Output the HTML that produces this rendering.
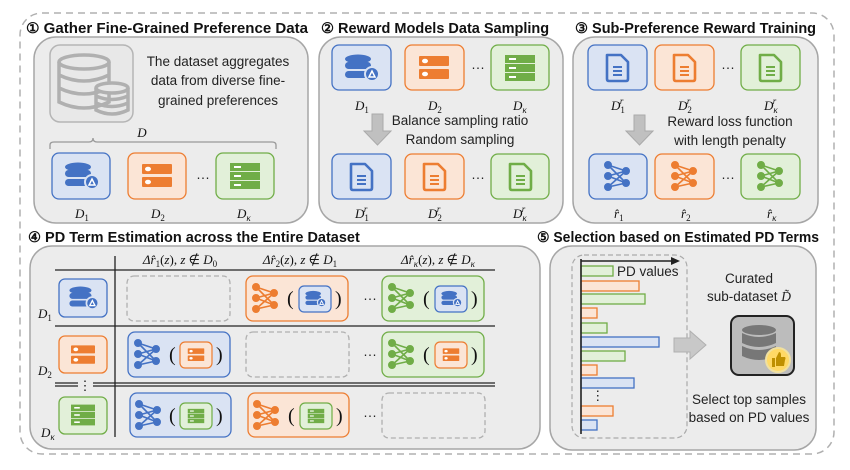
<!DOCTYPE html>
<html><head><meta charset="utf-8"><style>
html,body{margin:0;padding:0;background:#fff;}
svg{display:block;}
.t{font-family:"Liberation Sans",sans-serif;font-weight:bold;font-size:14.5px;fill:#111;}
.n{font-family:"Liberation Sans",sans-serif;font-size:13.5px;fill:#222;}
.m{font-family:"Liberation Serif",serif;font-style:italic;font-size:13px;fill:#111;}
.p{font-family:"Liberation Serif",serif;font-size:20px;fill:#111;}
</style></head><body>
<svg width="850" height="470" viewBox="0 0 850 470" xmlns="http://www.w3.org/2000/svg">
<defs>
<g id="db">
 <ellipse cx="-3" cy="-9" rx="13" ry="4.5" fill="#4472c4"/>
 <rect x="-16" y="-6" width="26" height="7" rx="3.5" fill="#4472c4"/>
 <rect x="-16" y="3" width="26" height="7" rx="3.5" fill="#4472c4"/>
 <circle cx="11" cy="6" r="7" fill="#4472c4" stroke="#dae3f3" stroke-width="2"/>
 <path d="M8 9 L11 3 L14 9 Z" fill="none" stroke="#fff" stroke-width="1.5"/>
</g>
<g id="srv">
 <rect x="-15" y="-12" width="30" height="10" rx="1" fill="#ed7d31"/>
 <rect x="-15" y="1" width="30" height="10" rx="1" fill="#ed7d31"/>
 <ellipse cx="-9" cy="-7" rx="3" ry="2.3" fill="#fff"/>
 <ellipse cx="-9" cy="6" rx="3" ry="2.3" fill="#fff"/>
</g>
<g id="grn">
 <rect x="-15" y="-13" width="30" height="8" fill="#70ad47"/>
 <rect x="-15" y="-4" width="30" height="8" fill="#70ad47"/>
 <rect x="-15" y="5" width="30" height="8" fill="#70ad47"/>
 <rect x="-11" y="-10" width="7" height="2" fill="#fff"/>
 <rect x="-11" y="-1" width="7" height="2" fill="#fff"/>
 <rect x="-11" y="8" width="7" height="2" fill="#fff"/>
</g>
<g id="doc">
 <path d="M-10 -13 H4 L11 -6 V11 Q11 13 9 13 H-8 Q-10 13 -10 11 Z" fill="none" stroke-width="2.6" stroke-linejoin="round"/>
 <path d="M-4 -1 H5 M-4 3 H5 M-4 7 H5" stroke-width="2"/>
</g>
<g id="nn">
 <path d="M-9 -11 L9 -5 M-9 -11 L9 7 M-9 0 L9 -5 M-9 0 L9 7 M-9 11 L9 -5 M-9 11 L9 7" stroke-width="1.6" fill="none"/>
 <circle cx="-9" cy="-11" r="3.5"/><circle cx="-9" cy="0" r="3.5"/><circle cx="-9" cy="11" r="3.5"/>
 <circle cx="9" cy="-5" r="3.5"/><circle cx="9" cy="7" r="3.5"/>
</g>
</defs>

<rect x="20" y="13" width="814" height="441" rx="22" fill="none" stroke="#b0b0b0" stroke-width="1.5" stroke-dasharray="7,5"/>

<text class="t" x="26" y="33" textLength="282" lengthAdjust="spacingAndGlyphs">① Gather Fine-Grained Preference Data</text>
<text class="t" x="321" y="33">② Reward Models Data Sampling</text>
<text class="t" x="575" y="33">③ Sub-Preference Reward Training</text>
<text class="t" x="28" y="242">④ PD Term Estimation across the Entire Dataset</text>
<text class="t" x="537" y="242" textLength="282" lengthAdjust="spacingAndGlyphs">⑤ Selection based on Estimated PD Terms</text>

<g fill="#ececec" stroke="#a6a6a6" stroke-width="1.5">
<rect x="34" y="37" width="274" height="186" rx="22"/>
<rect x="319" y="37" width="244" height="186" rx="22"/>
<rect x="573" y="37" width="245" height="186" rx="22"/>
<rect x="30" y="246" width="510" height="203" rx="22"/>
<rect x="550" y="246" width="266" height="204" rx="22"/>
</g>

<rect x="50" y="45" width="83" height="77" rx="10" fill="#e8e8e8" stroke="#b5b5b5" stroke-width="1.5"/>
<g fill="none" stroke="#b0b0b0" stroke-width="3.5">
 <ellipse cx="84" cy="62" rx="25" ry="7"/>
 <path d="M59 62 V102 Q84 114 109 102 V62 M59 75 Q84 87 109 75 M59 88 Q84 100 109 88"/>
 <ellipse cx="112" cy="88" rx="16" ry="5" fill="#e8e8e8"/>
 <path d="M96 88 V110 Q112 118 128 110 V88 M96 96 Q112 103 128 96 M96 103 Q112 110 128 103"/>
</g>
<text class="n" x="218" y="66" text-anchor="middle">The dataset aggregates</text>
<text class="n" x="218" y="85" text-anchor="middle">data from diverse fine-</text>
<text class="n" x="218" y="105" text-anchor="middle">grained preferences</text>
<text class="m" x="142" y="137" text-anchor="middle" font-size="14">D</text>
<path d="M50 149 V145 Q50 142 54 142 H89 Q93 142 93 138 Q93 142 97 142 H272 Q276 142 276 145 V149" fill="none" stroke="#999" stroke-width="1.3"/>
<rect x="52" y="153" width="58" height="46" rx="7" fill="#dae3f3" stroke="#4472c4" stroke-width="1.3"/>
<use href="#db" transform="translate(81,176)"/>
<rect x="128" y="153" width="58" height="46" rx="7" fill="#fbe5d6" stroke="#ed7d31" stroke-width="1.3"/>
<use href="#srv" transform="translate(157,176)"/>
<text class="n" x="203" y="182" text-anchor="middle">···</text>
<rect x="216" y="153" width="58" height="46" rx="7" fill="#e2f0d9" stroke="#70ad47" stroke-width="1.3"/>
<use href="#grn" transform="translate(245,176)"/>
<text class="m" x="75" y="218">D<tspan font-size="9" dy="3" font-style="normal">1</tspan></text>
<text class="m" x="151" y="218">D<tspan font-size="9" dy="3" font-style="normal">2</tspan></text>
<text class="m" x="237" y="218">D<tspan font-size="9" dy="3">κ</tspan></text>

<rect x="332" y="45" width="59" height="45" rx="7" fill="#dae3f3" stroke="#4472c4" stroke-width="1.3"/>
<use href="#db" transform="translate(361,68)"/>
<rect x="405" y="45" width="59" height="45" rx="7" fill="#fbe5d6" stroke="#ed7d31" stroke-width="1.3"/>
<use href="#srv" transform="translate(434,68)"/>
<text class="n" x="478" y="72" text-anchor="middle">···</text>
<rect x="491" y="45" width="58" height="45" rx="7" fill="#e2f0d9" stroke="#70ad47" stroke-width="1.3"/>
<use href="#grn" transform="translate(520,68)"/>
<text class="m" x="355" y="110">D<tspan font-size="9" dy="3" font-style="normal">1</tspan></text>
<text class="m" x="428" y="110">D<tspan font-size="9" dy="3" font-style="normal">2</tspan></text>
<text class="m" x="513" y="110">D<tspan font-size="9" dy="3">κ</tspan></text>
<path d="M372 114 H383 V131 H391 L377.5 145 L364 131 H372 Z" fill="#c0c0c0" stroke="#aaa"/>
<text class="n" x="460" y="125" text-anchor="middle">Balance sampling ratio</text>
<text class="n" x="460" y="144" text-anchor="middle">Random sampling</text>
<rect x="332" y="154" width="59" height="45" rx="7" fill="#dae3f3" stroke="#4472c4" stroke-width="1.3"/>
<use href="#doc" transform="translate(361,177)" stroke="#4472c4" fill="none"/>
<rect x="405" y="154" width="59" height="45" rx="7" fill="#fbe5d6" stroke="#ed7d31" stroke-width="1.3"/>
<use href="#doc" transform="translate(434,177)" stroke="#ed7d31" fill="none"/>
<text class="n" x="478" y="182" text-anchor="middle">···</text>
<rect x="491" y="154" width="58" height="45" rx="7" fill="#e2f0d9" stroke="#70ad47" stroke-width="1.3"/>
<use href="#doc" transform="translate(520,177)" stroke="#70ad47" fill="none"/>
<text class="m" x="355" y="218">D<tspan font-size="9" dy="3" font-style="normal">1</tspan><tspan font-size="9" dy="-9" dx="-5">r</tspan></text>
<text class="m" x="428" y="218">D<tspan font-size="9" dy="3" font-style="normal">2</tspan><tspan font-size="9" dy="-9" dx="-5">r</tspan></text>
<text class="m" x="513" y="218">D<tspan font-size="9" dy="3">κ</tspan><tspan font-size="9" dy="-9" dx="-5">r</tspan></text>

<rect x="588" y="45" width="59" height="45" rx="7" fill="#dae3f3" stroke="#4472c4" stroke-width="1.3"/>
<use href="#doc" transform="translate(617,68)" stroke="#4472c4" fill="none"/>
<rect x="655" y="45" width="59" height="45" rx="7" fill="#fbe5d6" stroke="#ed7d31" stroke-width="1.3"/>
<use href="#doc" transform="translate(684,68)" stroke="#ed7d31" fill="none"/>
<text class="n" x="728" y="72" text-anchor="middle">···</text>
<rect x="741" y="45" width="59" height="45" rx="7" fill="#e2f0d9" stroke="#70ad47" stroke-width="1.3"/>
<use href="#doc" transform="translate(770,68)" stroke="#70ad47" fill="none"/>
<text class="m" x="611" y="110">D<tspan font-size="9" dy="3" font-style="normal">1</tspan><tspan font-size="9" dy="-9" dx="-5">r</tspan></text>
<text class="m" x="678" y="110">D<tspan font-size="9" dy="3" font-style="normal">2</tspan><tspan font-size="9" dy="-9" dx="-5">r</tspan></text>
<text class="m" x="764" y="110">D<tspan font-size="9" dy="3">κ</tspan><tspan font-size="9" dy="-9" dx="-5">r</tspan></text>
<path d="M634 115 H645 V131 H653 L639.5 145 L626 131 H634 Z" fill="#c0c0c0" stroke="#aaa"/>
<text class="n" x="730" y="126" text-anchor="middle">Reward loss function</text>
<text class="n" x="730" y="145" text-anchor="middle">with length penalty</text>
<rect x="589" y="154" width="58" height="45" rx="7" fill="#dae3f3" stroke="#4472c4" stroke-width="1.3"/>
<use href="#nn" transform="translate(617,176)" stroke="#4472c4" fill="#4472c4"/>
<rect x="655" y="154" width="59" height="45" rx="7" fill="#fbe5d6" stroke="#ed7d31" stroke-width="1.3"/>
<use href="#nn" transform="translate(684,176)" stroke="#ed7d31" fill="#ed7d31"/>
<text class="n" x="728" y="182" text-anchor="middle">···</text>
<rect x="741" y="154" width="59" height="45" rx="7" fill="#e2f0d9" stroke="#70ad47" stroke-width="1.3"/>
<use href="#nn" transform="translate(770,176)" stroke="#70ad47" fill="#70ad47"/>
<text class="m" x="614" y="218">r̂<tspan font-size="9" dy="3" font-style="normal">1</tspan></text>
<text class="m" x="681" y="218">r̂<tspan font-size="9" dy="3" font-style="normal">2</tspan></text>
<text class="m" x="767" y="218">r̂<tspan font-size="9" dy="3">κ</tspan></text>

<g stroke="#222" stroke-width="1.3">
<line x1="115" y1="256" x2="115" y2="437"/>
<line x1="55" y1="270" x2="495" y2="270"/>
<line x1="55" y1="326" x2="495" y2="326"/>
<line x1="55" y1="383" x2="78" y2="383"/><line x1="55" y1="386" x2="78" y2="386"/>
<line x1="93" y1="383" x2="495" y2="383"/><line x1="93" y1="386" x2="495" y2="386"/>
</g>
<text class="n" x="85" y="390" text-anchor="middle" font-size="12">⋮</text>
<text class="m" x="180" y="264" text-anchor="middle">Δr̂<tspan font-size="9" dy="3" font-style="normal">1</tspan><tspan dy="-3" font-style="normal">(</tspan>z<tspan font-style="normal">), </tspan>z<tspan font-style="normal"> ∉ </tspan>D<tspan font-size="9" dy="3" font-style="normal">0</tspan></text>
<text class="m" x="300" y="264" text-anchor="middle">Δr̂<tspan font-size="9" dy="3" font-style="normal">2</tspan><tspan dy="-3" font-style="normal">(</tspan>z<tspan font-style="normal">), </tspan>z<tspan font-style="normal"> ∉ </tspan>D<tspan font-size="9" dy="3" font-style="normal">1</tspan></text>
<text class="m" x="438" y="264" text-anchor="middle">Δr̂<tspan font-size="9" dy="3">κ</tspan><tspan dy="-3" font-style="normal">(</tspan>z<tspan font-style="normal">), </tspan>z<tspan font-style="normal"> ∉ </tspan>D<tspan font-size="9" dy="3">κ</tspan></text>

<rect x="59" y="279" width="48" height="38" rx="6" fill="#dae3f3" stroke="#4472c4" stroke-width="1.3"/>
<use href="#db" transform="translate(83,298) scale(0.85)"/>
<rect x="59" y="336" width="48" height="37" rx="6" fill="#fbe5d6" stroke="#ed7d31" stroke-width="1.3"/>
<use href="#srv" transform="translate(83,355) scale(0.8)"/>
<rect x="59" y="397" width="48" height="37" rx="6" fill="#e2f0d9" stroke="#70ad47" stroke-width="1.3"/>
<use href="#grn" transform="translate(83,415) scale(0.8)"/>
<text class="m" x="38" y="318">D<tspan font-size="9" dy="3" font-style="normal">1</tspan></text>
<text class="m" x="38" y="375">D<tspan font-size="9" dy="3" font-style="normal">2</tspan></text>
<text class="m" x="41" y="437">D<tspan font-size="9" dy="3">κ</tspan></text>

<g fill="none" stroke="#b0b0b0" stroke-width="1.3" stroke-dasharray="5,3">
<rect x="127" y="276" width="103" height="45" rx="7"/>
<rect x="246" y="332" width="103" height="45" rx="7"/>
<rect x="382" y="393" width="103" height="45" rx="7"/>
</g>
<rect x="246" y="276" width="102" height="45" rx="7" fill="#fbe5d6" stroke="#ed7d31" stroke-width="1.3"/>
<use href="#nn" transform="translate(265,298)" stroke="#ed7d31" fill="#ed7d31"/>
<text class="p" x="287" y="305">(</text>
<rect x="299" y="286" width="32" height="26" rx="5" fill="#dae3f3" stroke="#4472c4" stroke-width="1.2"/>
<use href="#db" transform="translate(315,299) scale(0.6)"/>
<text class="p" x="335" y="305">)</text>
<text class="n" x="370" y="303" text-anchor="middle">···</text>
<rect x="382" y="276" width="102" height="45" rx="7" fill="#e2f0d9" stroke="#70ad47" stroke-width="1.3"/>
<use href="#nn" transform="translate(401,298)" stroke="#70ad47" fill="#70ad47"/>
<text class="p" x="423" y="305">(</text>
<rect x="435" y="286" width="32" height="26" rx="5" fill="#dae3f3" stroke="#4472c4" stroke-width="1.2"/>
<use href="#db" transform="translate(451,299) scale(0.6)"/>
<text class="p" x="471" y="305">)</text>
<rect x="128" y="332" width="102" height="45" rx="7" fill="#dae3f3" stroke="#4472c4" stroke-width="1.3"/>
<use href="#nn" transform="translate(147,354)" stroke="#4472c4" fill="#4472c4"/>
<text class="p" x="169" y="361">(</text>
<rect x="180" y="342" width="32" height="26" rx="5" fill="#fbe5d6" stroke="#ed7d31" stroke-width="1.2"/>
<use href="#srv" transform="translate(196,355) scale(0.55)"/>
<text class="p" x="216" y="361">)</text>
<text class="n" x="370" y="359" text-anchor="middle">···</text>
<rect x="382" y="332" width="102" height="45" rx="7" fill="#e2f0d9" stroke="#70ad47" stroke-width="1.3"/>
<use href="#nn" transform="translate(401,354)" stroke="#70ad47" fill="#70ad47"/>
<text class="p" x="423" y="361">(</text>
<rect x="435" y="342" width="32" height="26" rx="5" fill="#fbe5d6" stroke="#ed7d31" stroke-width="1.2"/>
<use href="#srv" transform="translate(451,355) scale(0.55)"/>
<text class="p" x="471" y="361">)</text>
<rect x="130" y="393" width="101" height="44" rx="7" fill="#dae3f3" stroke="#4472c4" stroke-width="1.3"/>
<use href="#nn" transform="translate(148,415)" stroke="#4472c4" fill="#4472c4"/>
<text class="p" x="169" y="422">(</text>
<rect x="180" y="403" width="32" height="26" rx="5" fill="#e2f0d9" stroke="#70ad47" stroke-width="1.2"/>
<use href="#grn" transform="translate(196,416) scale(0.55)"/>
<text class="p" x="216" y="422">)</text>
<rect x="248" y="393" width="101" height="44" rx="7" fill="#fbe5d6" stroke="#ed7d31" stroke-width="1.3"/>
<use href="#nn" transform="translate(266,415)" stroke="#ed7d31" fill="#ed7d31"/>
<text class="p" x="288" y="422">(</text>
<rect x="300" y="403" width="32" height="26" rx="5" fill="#e2f0d9" stroke="#70ad47" stroke-width="1.2"/>
<use href="#grn" transform="translate(316,416) scale(0.55)"/>
<text class="p" x="336" y="422">)</text>
<text class="n" x="370" y="420" text-anchor="middle">···</text>

<rect x="572" y="255" width="115" height="183" rx="12" fill="none" stroke="#aaa" stroke-width="1.2" stroke-dasharray="5,3"/>
<g stroke-width="1.3">
<rect x="581" y="266" width="32" height="10" fill="#e2f0d9" stroke="#70ad47"/>
<rect x="581" y="281" width="58" height="10" fill="#fbe5d6" stroke="#ed7d31"/>
<rect x="581" y="294" width="64" height="10" fill="#e2f0d9" stroke="#70ad47"/>
<rect x="581" y="308" width="16" height="10" fill="#fbe5d6" stroke="#ed7d31"/>
<rect x="581" y="323" width="26" height="10" fill="#e2f0d9" stroke="#70ad47"/>
<rect x="581" y="337" width="78" height="10" fill="#dae3f3" stroke="#4472c4"/>
<rect x="581" y="351" width="44" height="10" fill="#e2f0d9" stroke="#70ad47"/>
<rect x="581" y="365" width="16" height="10" fill="#fbe5d6" stroke="#ed7d31"/>
<rect x="581" y="378" width="53" height="10" fill="#dae3f3" stroke="#4472c4"/>
<rect x="581" y="406" width="32" height="10" fill="#fbe5d6" stroke="#ed7d31"/>
<rect x="581" y="420" width="16" height="10" fill="#dae3f3" stroke="#4472c4"/>
</g>
<line x1="581" y1="259" x2="581" y2="434" stroke="#222" stroke-width="1.6"/>
<line x1="581" y1="261" x2="674" y2="261" stroke="#222" stroke-width="1.6"/>
<path d="M680 261 L671 257 L671 265 Z" fill="#222"/>
<text class="n" x="591" y="400" font-size="11">⋮</text>
<text class="n" x="617" y="276">PD values</text>
<path d="M674 338 H690 V331 L706 345 L690 359 V352 H674 Z" fill="#c8c8c8" stroke="#b0b0b0"/>
<text class="n" x="749" y="283" text-anchor="middle">Curated</text>
<text class="n" x="749" y="301" text-anchor="middle">sub-dataset <tspan font-family="Liberation Serif" font-style="italic">D̃</tspan></text>
<rect x="731" y="316" width="63" height="59" rx="8" fill="#bcbcbc" stroke="#222" stroke-width="2"/>
<g fill="#777">
<ellipse cx="759" cy="330" rx="17" ry="5"/>
<path d="M742 333 Q759 341 776 333 V343 Q759 351 742 343 Z"/>
<path d="M742 346 Q759 354 776 346 V356 Q759 364 742 356 Z"/>
</g>
<circle cx="778" cy="360" r="12" fill="#ffd966" stroke="#f0e0a0" stroke-width="2"/>
<path d="M772 358 H775 V367 H772 Z M776 358 L779 352 Q781 352 781 355 V357 H785 Q786 358 785 360 L784 366 H776 Z" fill="#bf9000"/>
<text class="n" x="749" y="404" text-anchor="middle" font-size="12.5">Select top samples</text>
<text class="n" x="749" y="422" text-anchor="middle" font-size="12.5">based on PD values</text>
</svg>
</body></html>
